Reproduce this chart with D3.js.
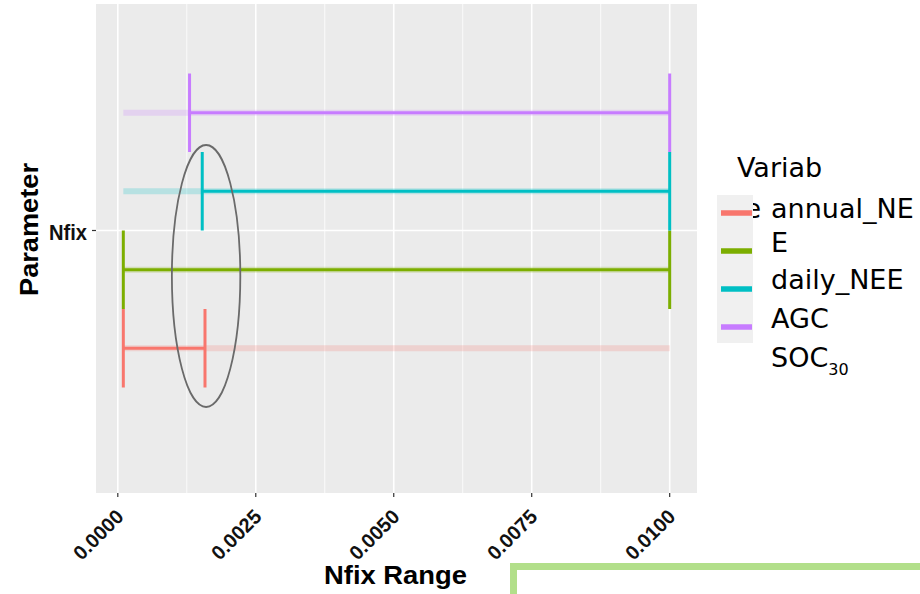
<!DOCTYPE html>
<html>
<head>
<meta charset="utf-8">
<script src="https://cdn.jsdelivr.net/npm/d3@7/dist/d3.min.js"></script>
<style>
  html, body { margin: 0; padding: 0; background: #ffffff; }
  svg { display: block; }
</style>
</head>
<body>
<svg id="chart" width="920" height="594"></svg>
<script>
// Sensitivity ranges of the Nfix parameter for each output variable
const parameters = ["Nfix"];
const variables = ["annual_NEE", "daily_NEE", "AGC", "SOC30"];
const lowValues = [0.0001, 0.0001, 0.00153, 0.0013];
const highValues = [0.00158, 0.01, 0.01, 0.01];
const fullRange = [0.0001, 0.01];
const xTicks = [0, 0.0025, 0.005, 0.0075, 0.01];
const xMinorTicks = [0.00125, 0.00375, 0.00625, 0.00875];
const colors = ["#F8766D", "#7CAE00", "#00BFC4", "#C77CFF"];
// highlighted region: centre value and half-width in Nfix units
const highlightCentre = 0.0016;
const highlightHalfWidth = 0.00062;

const svg = d3.select("#chart");
const panel = { left: 96, right: 697, top: 4, bottom: 493 };

// x axis with 5% expansion on each side of the data range
const span = fullRange[1] - fullRange[0];
const x = d3.scaleLinear()
  .domain([fullRange[0] - 0.05 * span, fullRange[1] + 0.05 * span])
  .range([panel.left, panel.right]);

// one band per parameter, dodged into one slot per variable (first at bottom)
const y = d3.scaleBand().domain(parameters).range([73.5, 387.5]);
const yInner = d3.scaleBand().domain(variables.slice().reverse()).range([0, y.bandwidth()]);
const color = d3.scaleOrdinal().domain(variables).range(colors);

// panel background and grid
svg.append("rect")
  .attr("x", panel.left).attr("y", panel.top)
  .attr("width", panel.right - panel.left).attr("height", panel.bottom - panel.top)
  .attr("fill", "#ebebeb");

svg.append("g").selectAll("line").data(xMinorTicks).join("line")
  .attr("x1", d => x(d)).attr("x2", d => x(d))
  .attr("y1", panel.top).attr("y2", panel.bottom)
  .attr("stroke", "#ffffff").attr("stroke-width", 0.8);
svg.append("g").selectAll("line").data(xTicks).join("line")
  .attr("x1", d => x(d)).attr("x2", d => x(d))
  .attr("y1", panel.top).attr("y2", panel.bottom)
  .attr("stroke", "#ffffff").attr("stroke-width", 1.6);
svg.append("g").selectAll("line").data(parameters).join("line")
  .attr("x1", panel.left).attr("x2", panel.right)
  .attr("y1", d => y(d) + y.bandwidth() / 2).attr("y2", d => y(d) + y.bandwidth() / 2)
  .attr("stroke", "#ffffff").attr("stroke-width", 1.6);

const rows = variables.map((v, i) => ({
  variable: v, param: "Nfix", lo: lowValues[i], hi: highValues[i]
}));
const rowY = d => y(d.param) + yInner(d.variable) + yInner.bandwidth() / 2;

// faint full-range lines behind each error bar
svg.append("g").selectAll("line").data(rows).join("line")
  .attr("x1", x(fullRange[0])).attr("x2", x(fullRange[1]))
  .attr("y1", rowY).attr("y2", rowY)
  .attr("stroke", d => color(d.variable))
  .attr("stroke-opacity", 0.22)
  .attr("stroke-width", 6);

// error bars
const bars = svg.append("g").selectAll("g").data(rows).join("g")
  .attr("stroke", d => color(d.variable))
  .attr("stroke-width", 3);
bars.append("line")
  .attr("x1", d => x(d.lo)).attr("x2", d => x(d.hi))
  .attr("y1", rowY).attr("y2", rowY);
bars.append("line")
  .attr("x1", d => x(d.lo)).attr("x2", d => x(d.lo))
  .attr("y1", d => y(d.param) + yInner(d.variable))
  .attr("y2", d => y(d.param) + yInner(d.variable) + yInner.bandwidth());
bars.append("line")
  .attr("x1", d => x(d.hi)).attr("x2", d => x(d.hi))
  .attr("y1", d => y(d.param) + yInner(d.variable))
  .attr("y2", d => y(d.param) + yInner(d.variable) + yInner.bandwidth());

// ellipse around the lower bounds
svg.append("ellipse")
  .attr("cx", x(highlightCentre))
  .attr("cy", 276)
  .attr("rx", x(highlightCentre + highlightHalfWidth) - x(highlightCentre))
  .attr("ry", 131)
  .attr("fill", "none")
  .attr("stroke", "#6a6a6a")
  .attr("stroke-width", 1.8);

// x axis ticks and labels
const xAxis = svg.append("g");
xAxis.selectAll("line").data(xTicks).join("line")
  .attr("x1", d => x(d)).attr("x2", d => x(d))
  .attr("y1", panel.bottom).attr("y2", panel.bottom + 4)
  .attr("stroke", "#333333").attr("stroke-width", 1.2);
xAxis.selectAll("text").data(xTicks).join("text")
  .attr("transform", d => `translate(${x(d) + 7},${panel.bottom + 25}) rotate(-45)`)
  .attr("text-anchor", "end")
  .attr("font-family", "Liberation Sans, Arial, sans-serif")
  .attr("font-weight", "bold")
  .attr("font-size", 20)
  .attr("fill", "#111111")
  .text(d => d3.format(".4f")(d));

// y axis tick and label
const yAxis = svg.append("g");
yAxis.selectAll("line").data(parameters).join("line")
  .attr("x1", panel.left - 4).attr("x2", panel.left)
  .attr("y1", d => y(d) + y.bandwidth() / 2).attr("y2", d => y(d) + y.bandwidth() / 2)
  .attr("stroke", "#333333").attr("stroke-width", 1.2);
yAxis.selectAll("text").data(parameters).join("text")
  .attr("x", 87).attr("y", d => y(d) + y.bandwidth() / 2 + 9)
  .attr("text-anchor", "end")
  .attr("font-family", "Liberation Sans, Arial, sans-serif")
  .attr("font-weight", "bold")
  .attr("font-size", 22)
  .attr("textLength", 38).attr("lengthAdjust", "spacingAndGlyphs")
  .attr("fill", "#111111")
  .text(d => d);

// axis titles
svg.append("text")
  .attr("x", 324).attr("y", 584)
  .attr("font-family", "Liberation Sans, Arial, sans-serif")
  .attr("font-weight", "bold")
  .attr("font-size", 25)
  .attr("textLength", 143).attr("lengthAdjust", "spacingAndGlyphs")
  .attr("fill", "#000000")
  .text("Nfix Range");
svg.append("text")
  .attr("transform", "translate(38,296) rotate(-90)")
  .attr("font-family", "Liberation Sans, Arial, sans-serif")
  .attr("font-weight", "bold")
  .attr("font-size", 25)
  .attr("textLength", 133).attr("lengthAdjust", "spacingAndGlyphs")
  .attr("fill", "#000000")
  .text("Parameter");

// legend: wrapped title, key column drawn over it, then labels
const legendFont = "DejaVu Sans, sans-serif";
const legend = svg.append("g");
legend.append("text").attr("x", 737).attr("y", 177)
  .attr("font-family", legendFont).attr("font-size", 27).text("Variab");
legend.append("text").attr("x", 737).attr("y", 218)
  .attr("font-family", legendFont).attr("font-size", 27).text("le");
legend.append("rect")
  .attr("x", 717).attr("y", 195).attr("width", 36).attr("height", 148)
  .attr("fill", "#f0f0f0");
const keyY = d3.scalePoint().domain(variables).range([213, 327]);
legend.selectAll("line.key").data(variables).join("line")
  .attr("class", "key")
  .attr("x1", 721).attr("x2", 752)
  .attr("y1", d => keyY(d)).attr("y2", d => keyY(d))
  .attr("stroke", d => color(d))
  .attr("stroke-width", 5.5);

const legendLines = [
  { text: "annual_NE", y: 218 },
  { text: "E", y: 252 },
  { text: "daily_NEE", y: 289 },
  { text: "AGC", y: 328 }
];
legend.selectAll("text.lab").data(legendLines).join("text")
  .attr("class", "lab")
  .attr("x", 771).attr("y", d => d.y)
  .attr("font-family", legendFont).attr("font-size", 27)
  .attr("fill", "#000000")
  .text(d => d.text);
const soc = legend.append("text").attr("x", 771).attr("y", 367)
  .attr("font-family", legendFont).attr("font-size", 27).attr("fill", "#000000");
soc.append("tspan").text("SOC");
soc.append("tspan").attr("font-size", 16).attr("dy", 8).text("30");

// green outlined box at the lower right
svg.append("rect")
  .attr("x", 513.5).attr("y", 566.5)
  .attr("width", 500).attr("height", 100)
  .attr("fill", "none")
  .attr("stroke", "#b2df8a")
  .attr("stroke-width", 7);
</script>
</body>
</html>
